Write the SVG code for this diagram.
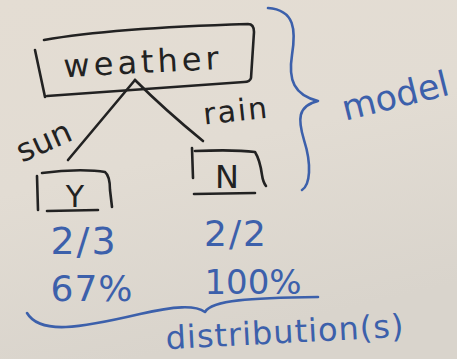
<svg xmlns="http://www.w3.org/2000/svg" width="457" height="359" viewBox="0 0 457 359">
<defs>
<linearGradient id="bg" x1="0" y1="0" x2="0.3" y2="1">
<stop offset="0" stop-color="#e4ddd3"/>
<stop offset="0.5" stop-color="#e2dcd3"/>
<stop offset="1" stop-color="#d9d4cc"/>
</linearGradient>
<style>
.blk{fill:none;stroke:#222;stroke-width:2.6;stroke-linecap:round;stroke-linejoin:round}
.blu{fill:none;stroke:#3c60ab;stroke-width:2.6;stroke-linecap:round;stroke-linejoin:round}
.tb{font-family:"DejaVu Sans",sans-serif;fill:#222}
.tu{font-family:"DejaVu Sans",sans-serif;fill:#3c60ab}
</style>
</defs>
<rect width="457" height="359" fill="url(#bg)"/>
<g id="weather">
<path class="blk" d="M35,50 L45,97 M44,40 C100,30 180,26 248,24 Q254,24 254,32 L251,78 Q250,82 244,82 C180,86 110,92 47,96"/>
<text class="tb" x="143" y="73" font-size="32" text-anchor="middle" letter-spacing="4" transform="rotate(-3 143 62)">weather</text>
</g>
<g id="connectors">
<path class="blk" d="M135,80 L68,160"/>
<path class="blk" d="M135,80 Q165,110 203,141"/>
<text class="tb" x="44" y="152" font-size="32" text-anchor="middle" transform="rotate(-24 44 142)">sun</text>
<text class="tb" x="236" y="121" font-size="30" text-anchor="middle" letter-spacing="2" transform="rotate(-6 236 110)">rain</text>
</g>
<g id="N">
<path class="blk" d="M192,148 L193,178 M195,151 C220,150 240,150 255,152 Q260,160 262,175 Q263,182 266,186 M194,194 L255,193"/>
<text class="tb" x="227" y="188" font-size="32" text-anchor="middle">N</text>
</g>
<g id="Y">
<path class="blk" d="M37,176 L38,210 M42,173 C70,169 95,170 105,172 Q110,176 110,190 L112,207 M47,211 L98,210"/>
<text class="tb" x="75" y="207" font-size="30" text-anchor="middle">Y</text>
<text class="tu" x="84" y="254" font-size="38" text-anchor="middle" letter-spacing="2">2/3</text>
<text class="tu" x="92" y="301" font-size="36" text-anchor="middle" letter-spacing="1">67%</text>
</g>
<g id="Nstats">
<text class="tu" x="236" y="246" font-size="36" text-anchor="middle" letter-spacing="2">2/2</text>
<text class="tu" x="253" y="294" font-size="34" text-anchor="middle">100%</text>
</g>
<g id="model">
<path class="blu" d="M268,8 C295,10 296,30 292,55 C288,80 294,95 318,101 C297,106 298,120 304,140 C312,165 310,185 302,190"/>
<text class="tu" x="395" y="108" font-size="35" text-anchor="middle" transform="rotate(-14 395 95)">model</text>
</g>
<g id="distribution">
<path class="blu" d="M27,313 C40,335 80,328 140,314 C175,306 195,305 205,312 C212,300 250,298 318,297"/>
<text class="tu" x="285" y="343" font-size="32" text-anchor="middle" letter-spacing="1" transform="rotate(-3 285 332)">distribution(s)</text>
</g>
</svg>
